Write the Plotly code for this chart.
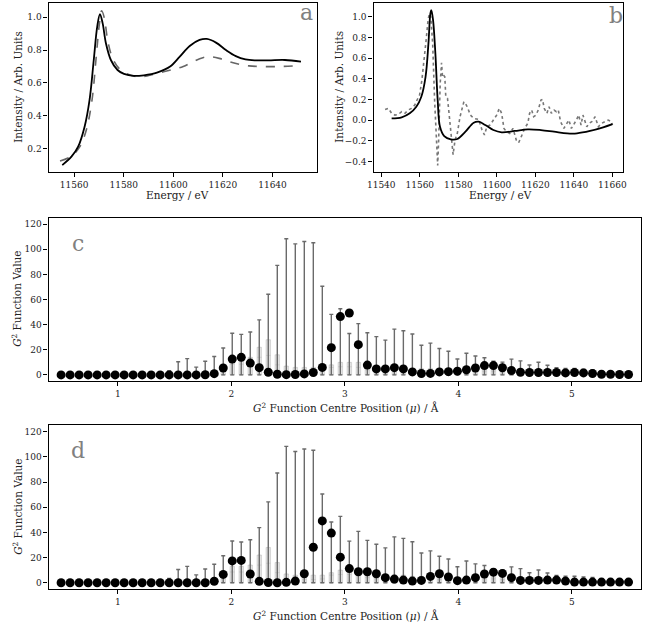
import numpy as np
import plotly.graph_objects as go

# ---------------- Panel a data ----------------
a_solid_e = [11555.2, 11558.9, 11561.6, 11564.2, 11566.2, 11567.9, 11569.3, 11570.4, 11571.5, 11572.8,
             11574.8, 11577.5, 11580.1, 11584.1, 11588.1, 11593.4, 11598.7, 11602.6, 11606.6, 11610.6,
             11613.5, 11617.2, 11621.2, 11625.2, 11629.1, 11633.1, 11638.4, 11645.0, 11651.5]
a_solid_v = [0.100, 0.151, 0.212, 0.334, 0.496, 0.740, 0.943, 1.020, 0.963, 0.842,
             0.740, 0.679, 0.655, 0.643, 0.647, 0.663, 0.700, 0.760, 0.825, 0.862,
             0.868, 0.846, 0.801, 0.764, 0.744, 0.738, 0.738, 0.740, 0.730]
a_dash_e = [11554.3, 11558.9, 11562.3, 11564.9, 11567.2, 11568.9, 11570.2, 11571.1, 11572.2, 11573.5,
            11575.5, 11578.1, 11581.5, 11585.4, 11589.4, 11594.7, 11600.0, 11604.0, 11607.9, 11611.9,
            11614.6, 11618.5, 11622.5, 11626.5, 11630.5, 11635.8, 11642.4, 11649.0]
a_dash_v = [0.125, 0.155, 0.212, 0.314, 0.496, 0.760, 0.963, 1.040, 0.994, 0.862,
            0.750, 0.689, 0.655, 0.639, 0.643, 0.663, 0.683, 0.700, 0.730, 0.754,
            0.760, 0.750, 0.730, 0.714, 0.704, 0.700, 0.700, 0.704]

# ---------------- Panel b data ----------------
b_solid_e = [11545.4, 11550.6, 11554.8, 11558.2, 11560.8, 11563.0, 11564.5, 11565.5, 11566.0, 11566.9,
             11568.1, 11569.3, 11570.5, 11572.7, 11576.1, 11579.5, 11583.7, 11588.0, 11590.6, 11594.0,
             11598.2, 11602.5, 11609.3, 11616.1, 11622.9, 11629.7, 11636.5, 11641.6, 11648.4, 11655.2, 11660.0]
b_solid_v = [0.016, 0.026, 0.065, 0.129, 0.226, 0.419, 0.742, 1.030, 1.065, 0.968,
             0.645, 0.194, -0.065, -0.155, -0.187, -0.184, -0.113, -0.026, -0.016, -0.048,
             -0.097, -0.119, -0.106, -0.090, -0.097, -0.113, -0.129, -0.129, -0.106, -0.071, -0.040]
b_dot_e = [11542.0, 11543.7, 11545.4, 11547.1, 11548.9, 11550.6, 11552.3, 11554.0, 11555.7, 11557.4,
           11558.6, 11559.9, 11561.1, 11562.1, 11563.3, 11564.3, 11565.0, 11565.7, 11566.7, 11567.7,
           11568.8, 11569.3, 11569.8, 11570.6, 11571.3, 11571.8, 11572.3, 11573.0, 11573.5, 11574.4,
           11575.2, 11576.3, 11577.3, 11578.3, 11579.5, 11580.9, 11582.0, 11582.9, 11583.7, 11584.6,
           11586.3, 11588.0, 11590.6, 11592.3, 11593.6, 11594.8, 11596.5, 11598.2, 11599.9, 11601.3,
           11602.5, 11603.7, 11605.0, 11606.7, 11608.4, 11610.1, 11611.3, 11612.7, 11614.4, 11616.1,
           11617.0, 11618.1, 11619.1, 11620.3, 11621.5, 11622.9, 11623.7, 11624.6, 11626.0, 11627.1,
           11628.3, 11629.7, 11630.9, 11631.9, 11633.1, 11634.8, 11636.2, 11637.4, 11638.7, 11639.9,
           11641.3, 11642.5, 11643.7, 11644.7, 11645.9, 11646.7, 11647.9, 11649.3, 11651.0, 11652.7,
           11654.4, 11656.1, 11657.8, 11659.5, 11660.0]
b_dot_v = [0.103, 0.113, 0.065, 0.048, 0.055, 0.081, 0.065, 0.097, 0.113, 0.145,
           0.194, 0.242, 0.387, 0.548, 0.774, 0.968, 1.030, 1.000, 0.742, 0.194,
           -0.258, -0.440, -0.194, 0.355, 0.555, 0.419, 0.435, 0.419, 0.226, 0.210,
           0.065, -0.129, -0.335, -0.194, -0.129, 0.032, 0.129, 0.177, 0.161, 0.129,
           0.048, 0.016, 0.006, -0.097, -0.145, -0.065, -0.048, 0.000, 0.048, 0.113,
           0.065, -0.081, -0.113, -0.129, -0.081, -0.194, -0.220, -0.161, -0.081, -0.032,
           0.065, 0.097, 0.032, 0.048, 0.097, 0.194, 0.200, 0.113, 0.065, 0.129,
           0.065, 0.097, 0.081, 0.097, -0.016, -0.081, -0.032, 0.000, -0.081, -0.048,
           0.000, 0.048, -0.048, 0.048, -0.032, -0.065, -0.032, -0.016, 0.032, -0.065,
           -0.032, -0.016, 0.000, -0.016, -0.048]

# ---------------- Panels c / d data ----------------
centres = np.linspace(0.5, 5.5, 64)

whisker_max = [0, 0, 0, 0, 0, 0, 0, 0, 0, 0, 0, 0, 3.4, 10.5, 13.0, 6.2,
               10.9, 14.7, 21.4, 33.1, 32.3, 34.1, 43.8, 64.2, 87.2, 108.3, 104.3, 106.2,
               105.2, 70.5, 48.2, 52.7, 33.0, 40.8, 33.6, 30.5, 27.7, 36.4, 35.2, 32.5,
               23.6, 25.3, 21.0, 18.8, 12.7, 17.2, 15.0, 13.7, 11.0, 10.2, 12.6, 11.2,
               7.9, 10.1, 7.7, 5.8, 5.2, 5.1, 4.5, 4.1, 2.9, 2.2, 1.5, 1.2]

violin_top = [0, 0, 0, 0, 0, 0, 0, 0, 0, 0, 0, 0, 1, 2, 2, 1,
              2, 3, 8, 13, 13, 14, 22, 28, 16, 7, 6, 6,
              6, 6, 8, 10, 10, 10, 8, 6, 6, 6, 6, 5,
              5, 5, 5, 5, 4, 5, 5, 6, 6, 5, 4, 3,
              3, 3, 3, 2, 1, 1, 1, 1, 1, 1, 1, 1]
violin_mid = [0, 0, 0, 0, 0, 0, 0, 0, 0, 0, 0, 0, 0.5, 1, 1, 0.5,
              1, 1, 3, 8.5, 8.5, 8, 14, 15.5, 8, 3, 2.5, 2.5,
              2.5, 3, 6, 6.5, 6.5, 6, 4, 3, 3, 3, 3, 2.5,
              2.5, 2.5, 2.5, 2.5, 2, 2.5, 2.5, 3, 3, 2.5, 2, 2,
              1.5, 1.5, 1.5, 1, 0.5, 0.5, 0.5, 0.5, 0.5, 0.5, 0.5, 0.5]

c_values = [0, 0, 0, 0, 0, 0, 0, 0, 0, 0, 0, 0, 0, 0, 0, 0,
            0.1, 1.0, 5.5, 12.6, 14.0, 9.4, 5.8, 2.1, 0.5, 0.2, 0.3, 0.8,
            1.9, 6.0, 21.7, 46.4, 49.3, 24.1, 7.8, 4.8, 4.8, 5.8, 4.8, 2.4,
            1.1, 1.2, 2.4, 2.6, 3.0, 4.1, 5.5, 7.4, 7.4, 5.7, 3.5, 2.1,
            1.9, 1.9, 1.9, 1.9, 1.6, 1.9, 1.6, 1.1, 0.5, 0.5, 0.3, 0.3]

d_values = [0, 0, 0, 0, 0, 0, 0, 0, 0, 0, 0, 0, 0, 0, 0, 0,
            0, 1.2, 6.6, 17.3, 17.7, 6.9, 1.1, 0.2, 0.0, 0.3, 1.3, 7.1,
            28.2, 49.1, 39.4, 20.3, 11.2, 8.7, 8.7, 7.1, 4.0, 2.9, 2.1, 1.3,
            1.8, 5.0, 7.1, 4.5, 1.6, 2.1, 4.0, 6.9, 8.4, 7.4, 4.0, 1.8,
            1.8, 1.8, 2.1, 2.1, 1.3, 0.5, 0.5, 0.5, 0.5, 0.5, 0.5, 0.5]

energy_title = "Energy / eV"
intensity_title = "Intensity / Arb. Units"
g2_value_title = "<i>G</i><sup>2</sup> Function Value"
g2_centre_title = "<i>G</i><sup>2</sup> Function Centre Position (<i>μ</i>) / Å"

# ---------------- Figure ----------------
W, H = 647, 625
FONT = "DejaVu Serif"
GREY_LINE = "#6a6a6a"

fig = go.Figure()

# Panel a
fig.add_trace(go.Scatter(x=a_dash_e, y=a_dash_v, mode="lines", line=dict(color="#666666", width=1.6, dash="dash", shape="spline"),
                         xaxis="x", yaxis="y", showlegend=False))
fig.add_trace(go.Scatter(x=a_solid_e, y=a_solid_v, mode="lines", line=dict(color="black", width=1.8, shape="spline"),
                         xaxis="x", yaxis="y", showlegend=False))
# Panel b
fig.add_trace(go.Scatter(x=b_dot_e, y=b_dot_v, mode="lines", line=dict(color="#777777", width=1.6, dash="dot"),
                         xaxis="x2", yaxis="y2", showlegend=False))
fig.add_trace(go.Scatter(x=b_solid_e, y=b_solid_v, mode="lines", line=dict(color="black", width=1.8, shape="spline"),
                         xaxis="x2", yaxis="y2", showlegend=False))

zeros = [0.0] * len(centres)

for xa, ya, vals in (("x3", "y3", c_values), ("x4", "y4", d_values)):
    fig.add_trace(go.Box(x=centres, q1=zeros, median=violin_mid, q3=violin_top,
                         lowerfence=zeros, upperfence=violin_top, width=0.04,
                         fillcolor="rgba(175,175,175,0.35)", line=dict(color="rgba(165,165,165,0.5)", width=0.7),
                         xaxis=xa, yaxis=ya, showlegend=False, hoverinfo="skip"))
    fig.add_trace(go.Scatter(x=centres, y=zeros, mode="markers", marker=dict(size=1, color="rgba(0,0,0,0)"),
                             error_y=dict(type="data", symmetric=False, array=whisker_max, arrayminus=zeros,
                                          color=GREY_LINE, thickness=1.4, width=2),
                             xaxis=xa, yaxis=ya, showlegend=False))
    fig.add_trace(go.Scatter(x=centres, y=vals, mode="markers", marker=dict(size=9, color="black"),
                             xaxis=xa, yaxis=ya, showlegend=False))

def dom_x(l, r):
    return [l / W, r / W]

def dom_y(t, b):
    return [1 - b / H, 1 - t / H]

axis_common = dict(showline=True, linecolor="black", linewidth=1.3, mirror=True, ticks="outside",
                   ticklen=4, tickwidth=1, tickcolor="black", showgrid=False, zeroline=False,
                   tickfont=dict(family=FONT, size=9, color="#222"))

fig.update_layout(
    width=W, height=H, margin=dict(l=0, r=0, t=0, b=0),
    plot_bgcolor="white", paper_bgcolor="white",
    font=dict(family=FONT, color="#222"),
    xaxis=dict(domain=dom_x(43.3, 316), range=[11549.7, 11658], tickvals=[11560, 11580, 11600, 11620, 11640],
               tickformat="d", anchor="y", **axis_common),
    yaxis=dict(domain=dom_y(2.7, 172.3), range=[0.056, 1.089], tickvals=[0.2, 0.4, 0.6, 0.8, 1.0], tickformat=".1f",
               anchor="x", **axis_common),
    xaxis2=dict(domain=dom_x(373.3, 626.7), range=[11536, 11665.5], tickvals=[11540, 11560, 11580, 11600, 11620, 11640, 11660],
                tickformat="d", anchor="y2", **axis_common),
    yaxis2=dict(domain=dom_y(2.7, 172.3), range=[-0.506, 1.136], tickvals=[-0.4, -0.2, 0.0, 0.2, 0.4, 0.6, 0.8, 1.0], tickformat=".1f",
                anchor="x2", **axis_common),
    xaxis3=dict(domain=dom_x(43.3, 645), range=[0.39, 5.61], tickvals=[1, 2, 3, 4, 5], anchor="y3", **axis_common),
    yaxis3=dict(domain=dom_y(217.7, 380.7), range=[-4.6, 125.1], tickvals=[0, 20, 40, 60, 80, 100, 120], anchor="x3", **axis_common),
    xaxis4=dict(domain=dom_x(43.3, 645), range=[0.39, 5.61], tickvals=[1, 2, 3, 4, 5], anchor="y4", **axis_common),
    yaxis4=dict(domain=dom_y(425, 589), range=[-5.0, 125.3], tickvals=[0, 20, 40, 60, 80, 100, 120], anchor="x4", **axis_common),
)

title_font = dict(family=FONT, size=10.5, color="#222")
# axis titles placed as paper annotations (pixel positions from reference layout)
for txt, px, py, ang in ((energy_title, 174, 195, 0),
                         (energy_title, 502, 195, 0),
                         (intensity_title, 12, 87, -90),
                         (intensity_title, 338, 87, -90),
                         (g2_centre_title, 345, 407, 0),
                         (g2_value_title, 11, 299, -90),
                         (g2_centre_title, 345, 615, 0),
                         (g2_value_title, 11, 507, -90)):
    fig.add_annotation(text=txt, xref="paper", yref="paper", x=px / W, y=1 - py / H, showarrow=False,
                       xanchor="center", yanchor="middle", textangle=ang, font=title_font)

label_font = dict(family=FONT, size=22, color="#808080")
for txt, xr, yr, xx, yy in (("a", "x domain", "y domain", 0.96, 0.94),
                             ("b", "x2 domain", "y2 domain", 0.972, 0.925),
                             ("c", "x3 domain", "y3 domain", 0.049, 0.84),
                             ("d", "x4 domain", "y4 domain", 0.049, 0.845)):
    fig.add_annotation(text=txt, xref=xr, yref=yr, x=xx, y=yy, showarrow=False,
                       xanchor="center", yanchor="middle", font=label_font)

# remove the default page margin so the figure sits at the window origin
fig.write_html("out.html", config={"displayModeBar": False},
               post_script="document.body.style.margin='0px';document.body.style.overflow='hidden';")
